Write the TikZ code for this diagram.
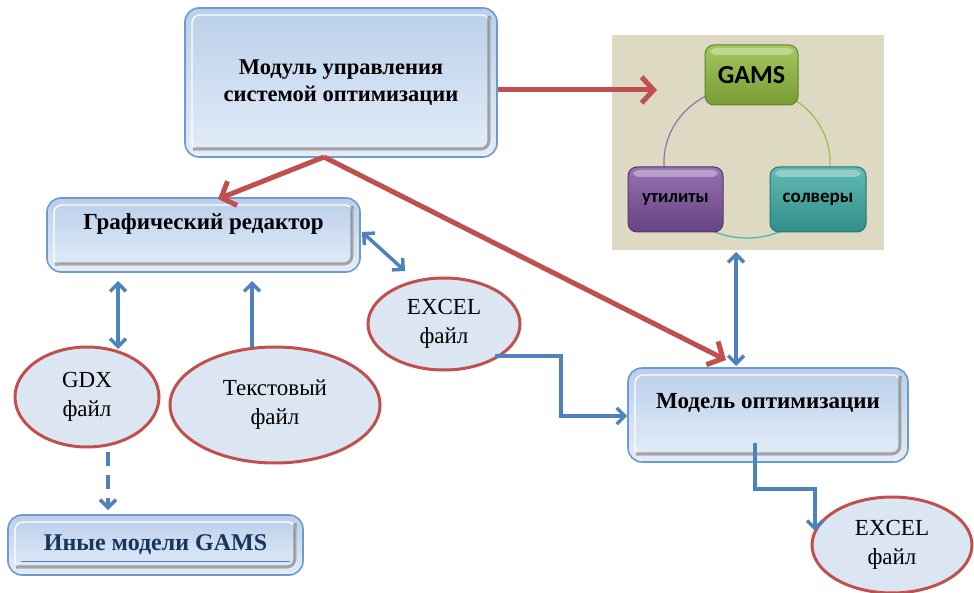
\documentclass[tikz,border=0pt]{standalone}
\usepackage{fontspec}
\setmainfont{Liberation Serif}
\newfontfamily\sansf{Carlito}
\usetikzlibrary{arrows.meta,shapes.geometric,calc}
\definecolor{redA}{HTML}{C0504D}
\definecolor{blueA}{HTML}{4F81BD}
\definecolor{boxedge}{HTML}{6E9AD2}
\definecolor{boxtop}{HTML}{BACFEA}
\definecolor{boxbot}{HTML}{E4EDF8}
\definecolor{ellfill}{HTML}{DCE6F2}
\definecolor{tanbg}{HTML}{DDD9C3}
\definecolor{gamsg}{HTML}{8DB83A}
\definecolor{utilp}{HTML}{7A4E9C}
\definecolor{solvt}{HTML}{3AA7A0}
\definecolor{darkbl}{HTML}{17365D}
\tikzset{
  mbox/.style={rectangle, rounded corners=14pt, draw=boxedge, line width=1.6pt,
    top color=boxtop, bottom color=boxbot, inner sep=0pt, align=center,
    font=\fontsize{23}{28}\selectfont\bfseries,
    path picture={
      \draw[white, line width=1.4pt, rounded corners=8pt]
        ($(path picture bounding box.south west)+(7pt,7pt)$) rectangle
        ($(path picture bounding box.north east)+(-7pt,-7pt)$);
      \draw[black!60, line width=3.2pt, opacity=.55, rounded corners=8pt]
        ($(path picture bounding box.north east)+(-8pt,-8pt)$) |-
        ($(path picture bounding box.south west)+(8pt,8pt)$);
    }},
  ellnode/.style={ellipse, draw=redA, line width=3pt, fill=ellfill, inner sep=0pt,
    align=center, font=\fontsize{23}{29}\selectfont},
  gloss/.style={rectangle, rounded corners=9pt, inner sep=0pt, line width=1pt,
    font=\sansf\bfseries,
    path picture={
      \fill[white, opacity=.35, rounded corners=6pt]
        ($(path picture bounding box.north west)+(5pt,-3pt)$) rectangle
        ($(path picture bounding box.north east)+(-5pt,-10pt)$);
    }},
  redarr/.style={draw=redA, line width=5pt, -{Straight Barb[length=12pt,width=26pt,line width=5pt]}},
  barr/.style={draw=blueA, line width=3.5pt, -{Straight Barb[length=8pt,width=16pt,line width=3.5pt]}},
  bboth/.style={draw=blueA, line width=3.5pt, {Straight Barb[length=8pt,width=16pt,line width=3.5pt]}-{Straight Barb[length=8pt,width=16pt,line width=3.5pt]}},
}
\begin{document}
\begin{tikzpicture}[x=1pt,y=-1pt]
\useasboundingbox (0,0) rectangle (974,593);

% GAMS cycle panel
\node[fill=tanbg, minimum width=272pt, minimum height=215pt, inner sep=0pt] (panel) at (748,142.5) {};
\coordinate (cyc) at (747,162);
\draw[utilp!80, line width=1.2pt] (cyc) ++(150:83 and 76) arc[start angle=150, end angle=270, x radius=83, y radius=76];
\draw[gamsg!90, line width=1.2pt] (cyc) ++(270:83 and 76) arc[start angle=270, end angle=390, x radius=83, y radius=76];
\draw[solvt!90, line width=1.2pt] (cyc) ++(30:83 and 76) arc[start angle=30, end angle=150, x radius=83, y radius=76];
\node[gloss, draw=gamsg!70!black, top color=gamsg!80!white, bottom color=gamsg!85!black, minimum width=93pt, minimum height=60pt, font=\sansf\bfseries\fontsize{26}{30}\selectfont] (gams) at (751.5,75) {GAMS};
\node[gloss, draw=utilp!70!black, top color=utilp!80!white, bottom color=utilp!85!black, minimum width=95pt, minimum height=65pt, font=\sansf\bfseries\fontsize{18.5}{22}\selectfont] (util) at (675.5,199.5) {утилиты};
\node[gloss, draw=solvt!70!black, top color=solvt!80!white, bottom color=solvt!85!black, minimum width=96pt, minimum height=65pt, font=\sansf\bfseries\fontsize{19}{22}\selectfont] (solv) at (818,199.5) {солверы};

% boxes
\node[mbox, minimum width=312pt, minimum height=149pt, font=\fontsize{22.5}{27}\selectfont\bfseries] (top) at (341,82.5) {Модуль управления\\системой оптимизации};
\node[mbox, minimum width=313pt, minimum height=74pt, text height=16pt, text depth=26pt] (ged) at (203.5,235) {Графический редактор};
\node[mbox, minimum width=280pt, minimum height=94pt, text height=16pt, text depth=30pt] (model) at (768,415) {Модель оптимизации};
\node[mbox, minimum width=295pt, minimum height=60pt, text=darkbl, font=\fontsize{24}{28}\selectfont\bfseries] (other) at (155.5,545) {Иные модели GAMS};
\draw[blueA, line width=1pt] ($(other.south west)+(14,-14)$) -- ($(other.south east)+(-14,-14)$);

% ellipses
\node[ellnode, minimum width=144pt, minimum height=100pt] (gdx) at (87,397) {GDX\\файл};
\node[ellnode, minimum width=210pt, minimum height=116pt] (txt) at (275,405) {Текстовый\\файл};
\node[ellnode, minimum width=152pt, minimum height=92pt] (xl1) at (444,324) {EXCEL\\файл};
\node[ellnode, minimum width=160pt, minimum height=96pt] (xl2) at (892,545) {EXCEL\\файл};

% red arrows
\coordinate (split) at (324,157);
\coordinate (gin) at (657,90);
\coordinate (gtip) at (218,199);
\coordinate (mtip) at (726,360);
\draw[redarr] (top.east |- gin) -- (gin);
\draw[redarr] (split) -- (gtip);
\draw[redarr] (split) -- (mtip);

% blue arrows
\coordinate (a1) at (118,281);
\coordinate (a2) at (118,349);
\draw[bboth] (a1) -- (a2);
\coordinate (t1) at (252,347);
\coordinate (t2) at (252,281);
\draw[barr] (t1) -- (t2);
\coordinate (e1) at (362,232);
\coordinate (e2) at (405,271);
\draw[bboth] (e1) -- (e2);
\coordinate (d1) at (108,452);
\coordinate (d2) at (108,510);
\draw[barr, dash pattern=on 14pt off 9pt] (d1) -- (d2);
\coordinate (x1) at (495,356);
\draw[barr] (x1) -- (561,356) -- (561,416) -- (model.west |- 561,416);
\coordinate (p1) at (736,252);
\coordinate (p2) at (736,366);
\draw[bboth] (p1) -- (p2);
\coordinate (m1) at (755,443);
\coordinate (m2) at (815,531);
\draw[barr] (m1) -- (755,489) -- (815,489) -- (m2);
\end{tikzpicture}
\end{document}
